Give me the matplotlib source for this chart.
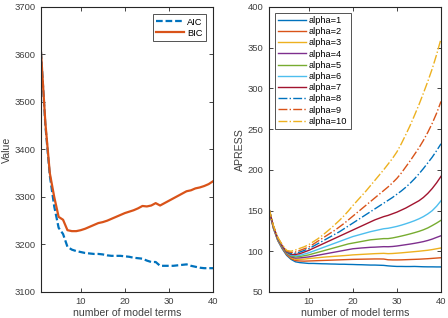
import matplotlib
matplotlib.use("Agg")
import matplotlib.pyplot as plt

plt.rcParams['font.family'] = ['Liberation Sans', 'DejaVu Sans']

# number of model terms
terms = list(range(1, 41))

aic = [3605, 3450, 3345, 3280, 3235, 3222, 3195, 3189, 3186, 3184,
       3182, 3181, 3180, 3180, 3179, 3177, 3176, 3176, 3176, 3175,
       3174, 3172, 3171, 3170, 3166, 3163, 3163, 3155, 3155, 3155,
       3155, 3156, 3157, 3158, 3155, 3153, 3151, 3150, 3150, 3150]
bic = [3605, 3455, 3350, 3300, 3258, 3252, 3230, 3228, 3228, 3230,
       3233, 3237, 3241, 3245, 3247, 3250, 3254, 3258, 3262, 3266,
       3269, 3272, 3276, 3281, 3280, 3282, 3287, 3282, 3287, 3292,
       3297, 3302, 3307, 3312, 3314, 3318, 3320, 3323, 3327, 3333]

# APRESS for alpha = 1..10
apress_1 = [151, 128, 113, 103, 95, 90, 87, 86, 85.5, 85,
            85, 84.8, 84.6, 84.5, 84.3, 84.2, 84, 84, 83.8, 83.7,
            83.5, 83.4, 83.2, 83, 83, 82.8, 82.6, 82, 81.6, 81.3,
            81.3, 81.2, 81.2, 81.3, 81.1, 80.9, 80.8, 80.8, 80.7, 80.7]
apress_2 = [151, 128.5, 113.5, 104, 96, 91, 88.5, 88, 87.8, 88,
            88.2, 88.4, 88.6, 88.8, 89, 89.2, 89.4, 89.6, 89.8, 90,
            90.1, 90.2, 90.3, 90.4, 90.5, 90.5, 90.4, 89.5, 89.3, 89.3,
            89.4, 89.6, 89.8, 90, 90.2, 90.5, 90.8, 91.2, 91.6, 92]
apress_3 = [151.5, 129, 114, 104.5, 97, 92, 90, 90, 90.3, 91,
            91.5, 92, 92.5, 93, 93.4, 93.8, 94.2, 94.6, 95, 95.5,
            95.8, 96.1, 96.4, 96.7, 97, 97.2, 97.4, 97, 97.2, 97.6,
            98, 98.5, 99, 99.5, 100, 100.6, 101.2, 102, 103, 104]
apress_4 = [151.5, 129.5, 114.5, 105, 97.5, 93, 91.5, 91.8, 92.4, 93,
            94, 95, 96, 97, 98, 99, 100, 101, 102, 103,
            103.5, 104, 104.4, 104.8, 105, 105.3, 105.6, 105.5, 105.8, 106.4,
            107.2, 108, 108.8, 109.7, 110.7, 111.8, 113.2, 114.9, 117, 119]
apress_5 = [152, 130, 115, 105.5, 98, 94, 93, 93.5, 94.5, 95.5,
            97, 98.5, 100, 101.5, 103, 104.5, 106, 107.5, 109, 110,
            111, 112, 113, 114, 114.5, 115, 115.5, 115.5, 116.3, 117.4,
            118.6, 119.9, 121.3, 122.8, 124.4, 126.3, 128.6, 131.5, 134.6, 138]
apress_6 = [152, 130, 115, 106, 98.5, 95, 94.5, 95, 96.5, 98,
            100, 102, 104, 106, 108, 110, 112, 114, 116, 118,
            119.5, 121, 122.5, 124, 125.2, 126.4, 127.6, 128.2, 129.3, 130.5,
            132, 133.7, 135.5, 137.5, 139.8, 142.5, 145.8, 149.8, 155.3, 162]
apress_7 = [152, 130.5, 115.5, 106.5, 99, 96, 96, 97, 99, 101,
            103.5, 106, 108.5, 111, 113.5, 116, 118.5, 121, 123.5, 126,
            128.5, 131, 133.5, 136, 138.5, 140.5, 142.5, 144, 146, 148,
            150.5, 153, 156, 159, 162, 166, 171, 177, 184, 192]
apress_8 = [152.5, 131, 116, 107, 99.5, 97, 97.5, 99, 101, 103,
            106, 109, 112, 115, 118, 121, 124, 127.5, 131, 134.5,
            138, 141.5, 145, 148.5, 152, 155.5, 159, 162.5, 166, 170,
            174, 178.5, 183.5, 189, 195, 201.5, 208.5, 215.5, 223.5, 232]
apress_9 = [152.5, 131, 116.5, 107.5, 100, 98.5, 99, 101, 103, 105,
            108.5, 112, 115.5, 119, 122.5, 126, 130, 134, 138.5, 143,
            147.5, 152, 156.5, 161, 165.5, 170, 174.5, 179, 184, 189.5,
            196, 203.5, 211, 219, 227, 236, 246, 257, 269.5, 284]
apress_10 = [153, 131.5, 117, 108, 101, 100, 101.5, 103.5, 105.5, 108,
             111.5, 115, 119, 123.5, 128, 133, 138, 143.5, 149.5, 156,
             162, 168, 174, 180.5, 187, 193.5, 200, 207, 214, 222,
             232, 243, 254.5, 267, 280, 294, 308.5, 324, 341.5, 361]

apress = [apress_1, apress_2, apress_3, apress_4, apress_5,
          apress_6, apress_7, apress_8, apress_9, apress_10]
alpha_labels = ['alpha=%d' % a for a in range(1, 11)]

colors = ['#0072BD', '#D95319', '#EDB120', '#7E2F8E', '#77AC30',
          '#4DBEEE', '#A2142F', '#0072BD', '#D95319', '#EDB120']
styles = ['-'] * 7 + ['-.'] * 3

edge = '#262626'
txt = '#404040'
fs = 6.8      # tick labels
lfs = 7.6     # axis labels
gfs = 6.7     # legend


def style_axes(ax):
    for s in ax.spines.values():
        s.set_color(edge)
        s.set_linewidth(0.8)
    ax.tick_params(direction='in', top=True, right=True, length=3,
                   width=0.6, colors=edge, labelsize=fs, labelcolor=txt, pad=4)
    ax.set_xlabel('number of model terms', fontsize=lfs, color=txt, labelpad=1)


fig = plt.figure(figsize=(4.48, 3.18), dpi=100)

ax1 = fig.add_axes([0.0915, 0.082, 0.384, 0.896])
ax1.plot(terms, aic, color='#0072BD', linestyle=(0, (3, 1.3)), linewidth=1.6, label='AIC')
ax1.plot(terms, bic, color='#D95319', linestyle='-', linewidth=1.6, label='BIC')
ax1.set_xlim(1, 40)
ax1.set_ylim(3100, 3700)
ax1.set_xticks([10, 20, 30, 40])
ax1.set_yticks(range(3100, 3701, 100))
ax1.set_ylabel('Value', fontsize=lfs, color=txt, labelpad=2)
style_axes(ax1)
leg1 = ax1.legend(loc='upper right', fontsize=gfs, frameon=True, fancybox=False,
                  edgecolor=edge, handlelength=3.0, borderpad=0.35, labelspacing=0.2,
                  handletextpad=0.3, borderaxespad=0.8)
leg1.get_frame().set_linewidth(0.7)

ax2 = fig.add_axes([0.6004, 0.082, 0.384, 0.896])
for vals, c, ls, lab in zip(apress, colors, styles, alpha_labels):
    ax2.plot(terms, vals, color=c, linestyle=ls, linewidth=1.0, label=lab)
ax2.set_xlim(1, 40)
ax2.set_ylim(50, 400)
ax2.set_xticks([10, 20, 30, 40])
ax2.set_yticks(range(50, 401, 50))
ax2.set_ylabel('APRESS', fontsize=lfs, color=txt, labelpad=2)
style_axes(ax2)
leg2 = ax2.legend(loc='upper left', fontsize=gfs, frameon=True, fancybox=False,
                  edgecolor=edge, handlelength=3.0, borderpad=0.35, labelspacing=0.24,
                  handletextpad=0.35, borderaxespad=0.6)
leg2.get_frame().set_linewidth(0.7)

fig.savefig('out.png', dpi=100)
